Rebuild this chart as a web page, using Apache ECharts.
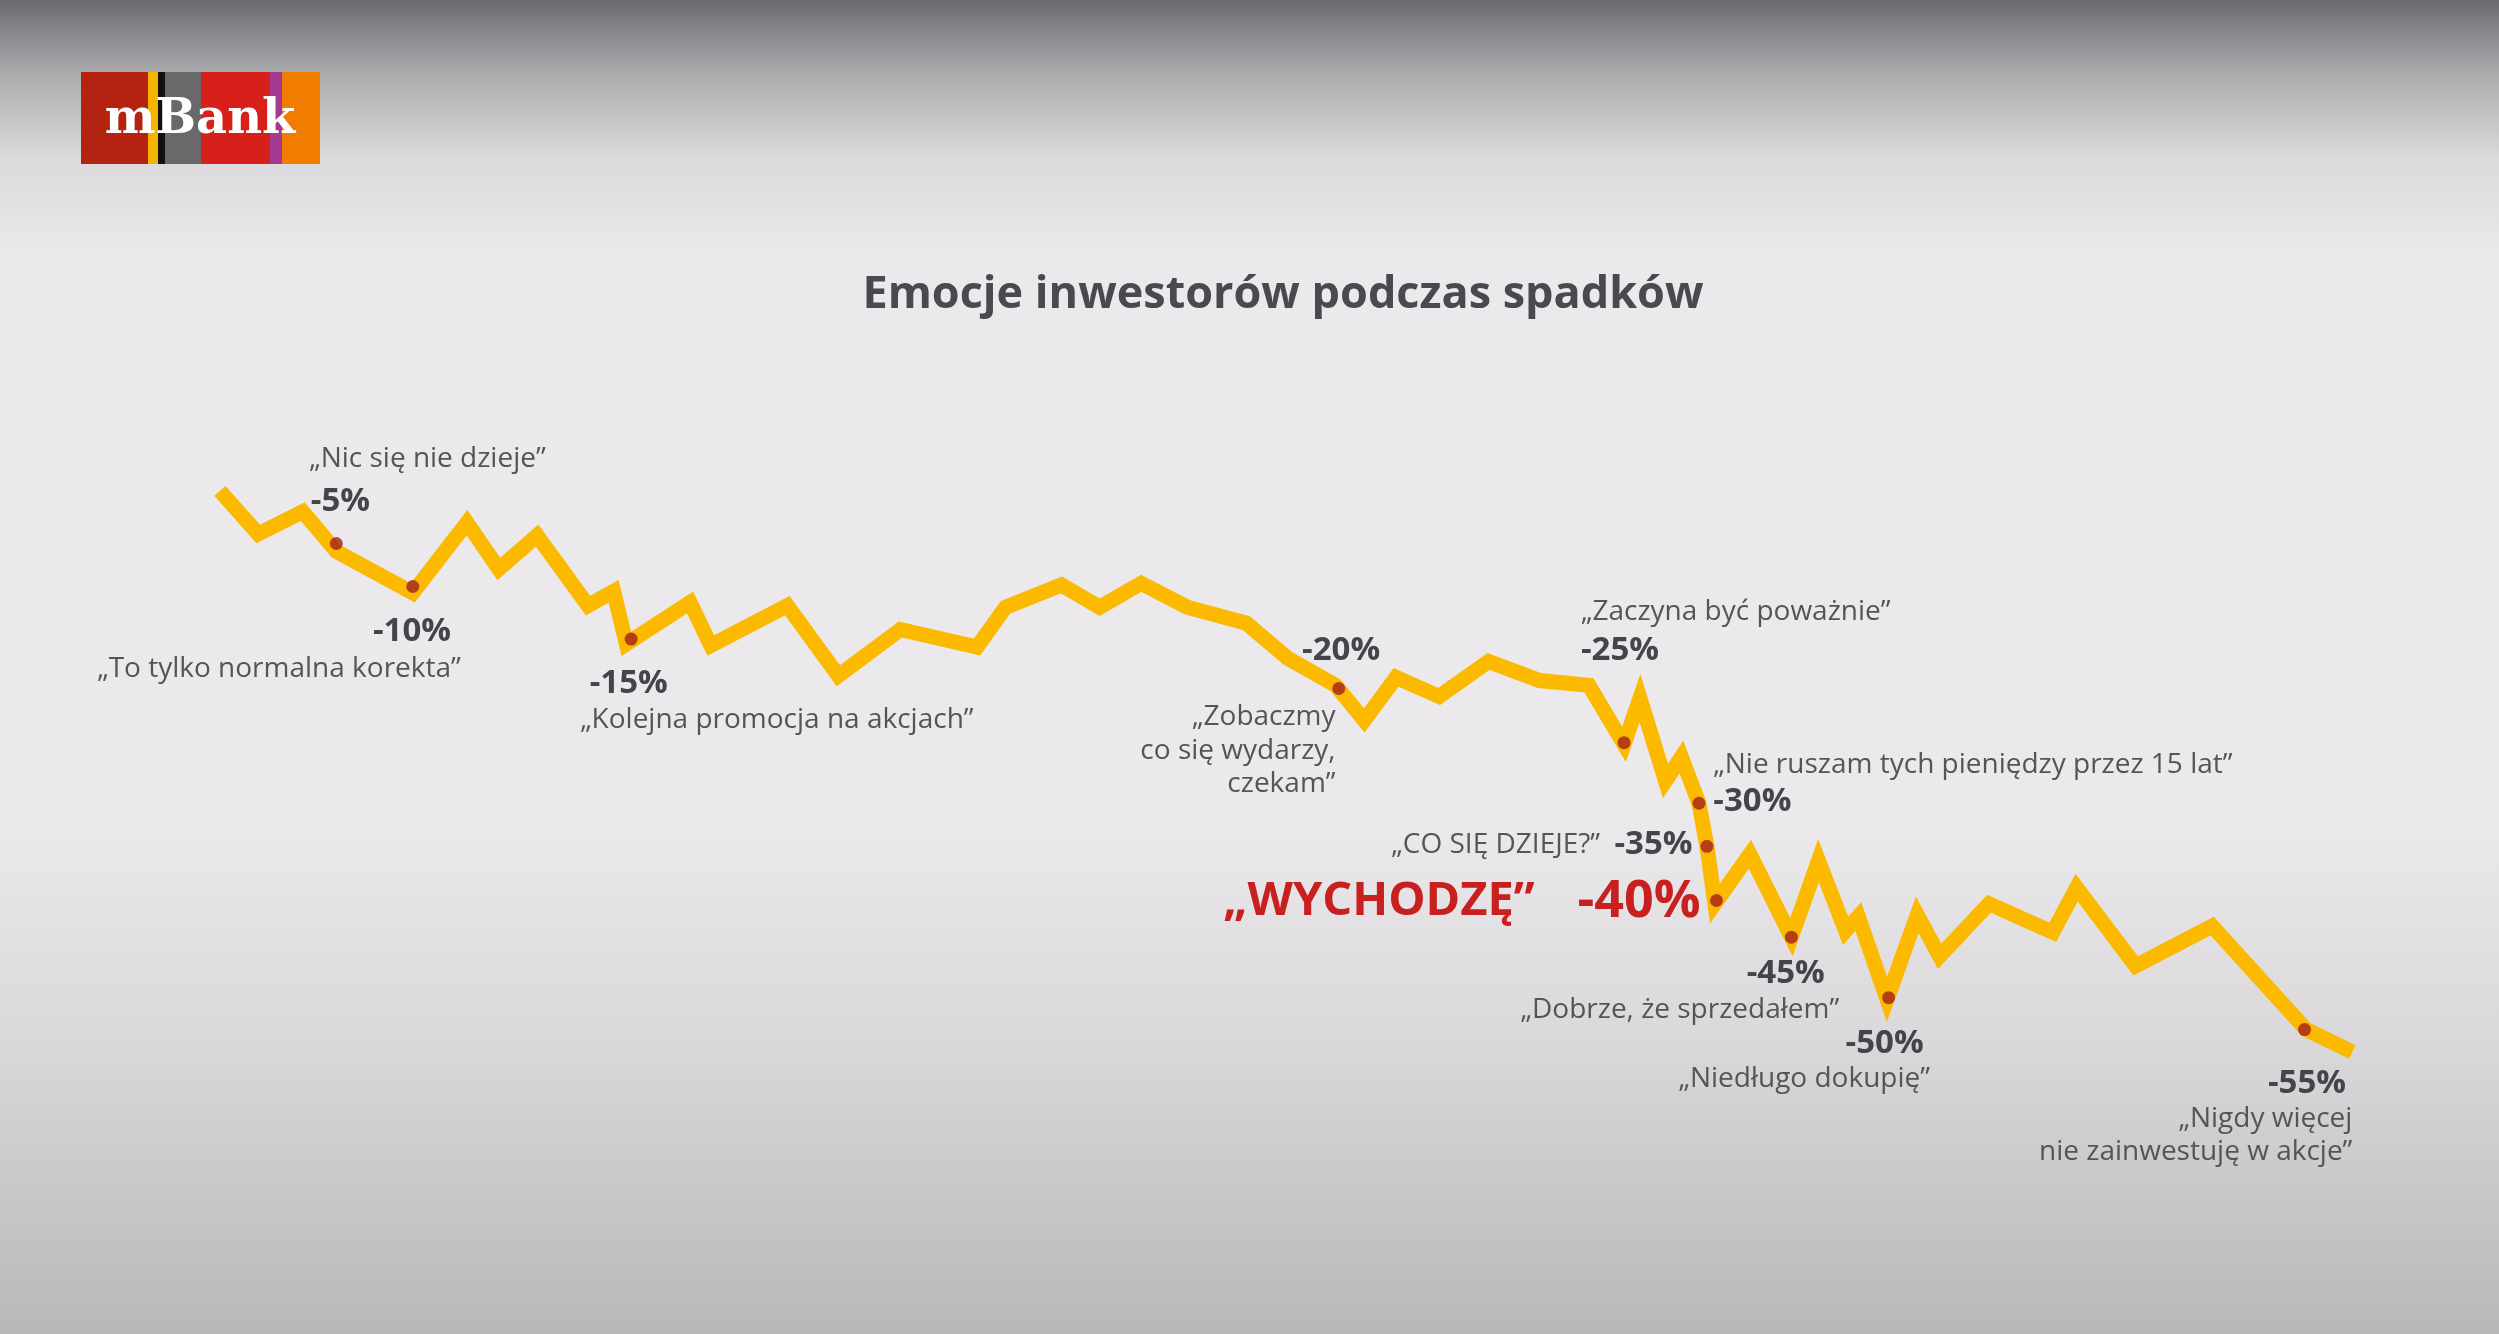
<!DOCTYPE html>
<html><head><meta charset="utf-8">
<script src="https://cdn.jsdelivr.net/npm/echarts@6/dist/echarts.min.js"></script>
<style>
html,body{margin:0;padding:0;width:2499px;height:1334px;overflow:hidden;
background:linear-gradient(to bottom,#6b6a6e 0px,#a9a8ab 70px,#dcdadd 160px,#ebe9ec 260px,#ebe9ec 820px,#d9d7da 1050px,#b9b7ba 1334px);}
#c{width:2499px;height:1334px;}
</style></head><body><div id="c"></div>
<script>
// path of the market line (reference units, 1568 x 837 frame)
const lineX = [138,162,190,211,259,293,313,337,369,385,393,433,446,494,526,565,613,631,666,690,716,745,782,808,838,856,876,903,934,966,997,1019,1029,1045,1055,1066,1071,1076,1098,1124,1141,1158,1166,1184,1203,1217,1248,1288,1303,1340,1388,1447,1476];
const lineY = [308,335,321,346,372,328,357,336,380,371,404,378,405,380,424,395,406,381,367,381,366,381,391,413,430,452,425,437,415,427,430,467,438,490,475,504,531,567,536,588,540,584,575,627,574,600,567,585,557,606,581,646,660];
// emotion markers
const dotX = [211,259,396,840,1019,1066,1071,1077,1124,1185,1446];
const dotY = [341,368,401,432,466,504,531,565,588,626,646];
const pctLabels = ['-5%','-10%','-15%','-20%','-25%','-30%','-35%','-40%','-45%','-50%','-55%'];

const S = 2499/1568;
const chart = echarts.init(document.getElementById('c'));
const FONT = '"Open Sans", "DejaVu Sans", sans-serif';
function T(x,y,text,o){
  return Object.assign({type:'text',x:x*S,y:y*S,style:Object.assign({text:text,fontFamily:FONT,fontSize:28,fill:'#555',align:'left',verticalAlign:'middle'},o||{})});
}
const B = {fontWeight:'bold',fontSize:33,fill:'#454449'};
const logo = [
  {type:'rect',shape:{x:81,y:72,width:67,height:92},style:{fill:'#b3230f'}},
  {type:'rect',shape:{x:148,y:72,width:10,height:92},style:{fill:'#f4b400'}},
  {type:'rect',shape:{x:158,y:72,width:7,height:92},style:{fill:'#111'}},
  {type:'rect',shape:{x:165,y:72,width:36,height:92},style:{fill:'#6a6869'}},
  {type:'rect',shape:{x:201,y:72,width:69,height:92},style:{fill:'#d8201a'}},
  {type:'rect',shape:{x:270,y:72,width:12,height:92},style:{fill:'#a23a8f'}},
  {type:'rect',shape:{x:282,y:72,width:38,height:92},style:{fill:'#f07d00'}},
  {type:'text',x:200,y:121,style:{text:'mBank',fontFamily:'"DejaVu Serif", serif',fontWeight:'bold',fontSize:48,fill:'#fff',align:'center',verticalAlign:'middle'}}
];
const texts = [
  T(805,185,'Emocje inwestorów podczas spadków',{fontWeight:'bold',fontSize:45,fill:'#4a494e',align:'center'}),
  T(194,288,'\u201ENic się nie dzieje\u201D'),
  T(195,315,pctLabels[0],B),
  T(234,396,pctLabels[1],B),
  T(61,420,'\u201ETo tylko normalna korekta\u201D'),
  T(370,429,pctLabels[2],B),
  T(364,452,'\u201EKolejna promocja na akcjach\u201D'),
  T(817,408,pctLabels[3],B),
  T(838,450,'\u201EZobaczmy',{align:'right'}),
  T(838,471,'co się wydarzy,',{align:'right'}),
  T(838,492,'czekam\u201D',{align:'right'}),
  T(992,384,'\u201EZaczyna być poważnie\u201D'),
  T(992,408,pctLabels[4],B),
  T(1075,480,'\u201ENie ruszam tych pieniędzy przez 15 lat\u201D'),
  T(1075,503,pctLabels[5],B),
  T(1004,530,'\u201ECO SIĘ DZIEJE?\u201D',{align:'right'}),
  T(1062,530,pctLabels[6],Object.assign({},B,{align:'right'})),
  T(963,566,'\u201EWYCHODZĘ\u201D',{fontWeight:'bold',fontSize:47,fill:'#c8201e',align:'right'}),
  T(1067,566,pctLabels[7],{fontWeight:'bold',fontSize:52,fill:'#c8201e',align:'right'}),
  T(1096,611,pctLabels[8],B),
  T(1154,634,'\u201EDobrze, że sprzedałem\u201D',{align:'right'}),
  T(1158,655,pctLabels[9],B),
  T(1211,677,'\u201ENiedługo dokupię\u201D',{align:'right'}),
  T(1472,680,pctLabels[10],Object.assign({},B,{align:'right'})),
  T(1476,702,'\u201ENigdy więcej',{align:'right'}),
  T(1476,723,'nie zainwestuję w akcje\u201D',{align:'right'})
];
chart.setOption({
  backgroundColor:'transparent',
  animation:false,
  grid:{left:0,right:0,top:0,bottom:0},
  xAxis:{type:'value',min:0,max:1568,show:false},
  yAxis:{type:'value',min:0,max:837,inverse:true,show:false},
  series:[
    {type:'line',data:lineX.map((x,i)=>[x,lineY[i]]),symbol:'none',
     lineStyle:{color:'#fbb900',width:15,join:'miter',cap:'butt'},z:2},
    {type:'scatter',data:dotX.map((x,i)=>[x,dotY[i]]),symbolSize:13,
     itemStyle:{color:'#a3211a'},z:3}
  ],
  graphic:logo.concat(texts)
});
</script></body></html>
